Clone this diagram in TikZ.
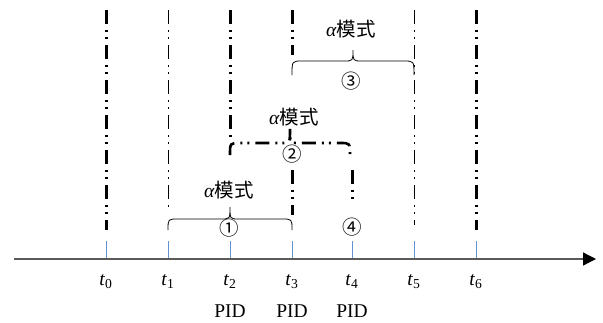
\documentclass[tikz,border=0pt]{standalone}
\usepackage{fontspec}
\setmainfont{Liberation Serif}
\newfontfamily\cjk{Noto Sans CJK SC}
\usetikzlibrary{arrows.meta}
\definecolor{tickblue}{RGB}{100,145,210}
\definecolor{axisgray}{RGB}{90,90,90}
\tikzset{
  ddot/.style={dash pattern=on 14pt off 6pt on 2pt off 5pt on 2pt off 6pt},
  heavy/.style={ddot, line width=3pt},
  light/.style={ddot, line width=0.9pt},
  lbl/.style={font=\fontsize{19.5}{22}\selectfont, inner sep=0pt},
  tickmark/.style={tickblue, line width=0.8pt},
}
% curly brace opening downwards: x1, x2, end level, bar level, tip level
\newcommand\bracepath[5]{%
  (#1,#3) .. controls (#1,#4) .. ({#1+10},#4)
  -- ({(#1+#2)/2-9},#4) .. controls ({(#1+#2)/2},#4) .. ({(#1+#2)/2},#5)
  .. controls ({(#1+#2)/2},#4) .. ({(#1+#2)/2+9},#4)
  -- ({#2-10},#4) .. controls (#2,#4) .. (#2,#3)}
\begin{document}
\begin{tikzpicture}[x=1pt,y=-1pt]
\useasboundingbox (0,0) rectangle (603,322);

% time instants on the axis
\foreach \i/\x in {0/106,1/168,2/230,3/292,4/352,5/414,6/476}
  \coordinate (t\i) at (\x,259);
\coordinate (ax0) at (14,259);
\coordinate (ax1) at (596,259);

% helper levels for the vertical guides
\coordinate (ytop) at (0,10);
\coordinate (y55) at (0,55);
\coordinate (y140) at (0,140);
\coordinate (y170) at (0,170);
\coordinate (y203) at (0,203);
\coordinate (y210) at (0,210);
\coordinate (y215) at (0,215);
\coordinate (y225) at (0,225);
\coordinate (y230) at (0,230);

% vertical guides
\draw[heavy] (t0 |- ytop) -- (t0 |- y230);
\draw[light] (t1 |- ytop) -- (t1 |- y210);
\draw[heavy] (t2 |- ytop) -- (t2 |- y140);
\draw[heavy] (t3 |- ytop) -- (t3 |- y55);
\draw[heavy] (t3 |- y170) -- (t3 |- y215);
\draw[heavy] (t4 |- y170) -- (t4 |- y203);
\draw[light] (t5 |- ytop) -- (t5 |- y225);
\draw[heavy] (t6 |- ytop) -- (t6 |- y230);

% braces
\draw[line width=0.8pt] \bracepath{168}{292}{230}{219}{207};
\draw[heavy, line width=2.6pt] \bracepath{230}{350}{155}{143}{129};
\draw[line width=0.8pt] \bracepath{292}{414}{75}{61}{50};

% mode labels
\node[lbl] (m1) at (229,190) {\textit{α}{\cjk 模式}};
\node[lbl] (m2) at (294,117) {\textit{α}{\cjk 模式}};
\node[lbl] (m3) at (351,29) {\textit{α}{\cjk 模式}};
\node[lbl] (c1) at (229,228) {\cjk ①};
\node[lbl] (c2) at (292,154) {\cjk ②};
\node[lbl] (c3) at (351,81) {\cjk ③};
\node[lbl] (c4) at (352,227) {\cjk ④};

% ticks
\foreach \i in {0,...,6}
  \draw[tickmark] (t\i) -- ++(0,-18);

% axis
\draw[axisgray, line width=1.3pt, -{Triangle[length=13pt,width=13pt,color=black]}] (ax0) -- (ax1);

% tick labels
\foreach \i in {0,...,6}
  \node[lbl, anchor=base] (lab\i) at ([yshift=-26pt]t\i) {\textit{t}\textsubscript{\i}};
\foreach \i in {2,3,4}
  \node[lbl, anchor=base] (pid\i) at ([yshift=-58pt]t\i) {PID};
\end{tikzpicture}
\end{document}
